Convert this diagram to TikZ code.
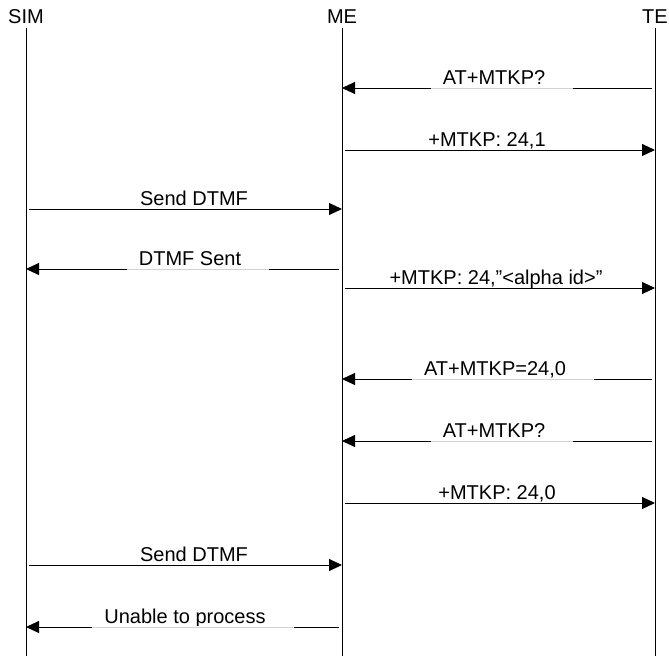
\documentclass[tikz,border=0pt]{standalone}
\usepackage{fontspec}
\setmainfont{Liberation Sans}
\usetikzlibrary{arrows.meta}

\begin{document}
\begin{tikzpicture}[x=1pt, y=-1pt,
    every node/.style={font=\fontsize{20}{24}\selectfont, inner sep=0pt},
    lifeline/.style={line width=0.9pt, shorten <=5pt},
    msg/.style={line width=1pt, -{Triangle[length=13pt,width=12pt]}, shorten <=3pt},
    lbl/.style={anchor=base}]
    \useasboundingbox (0,0) rectangle (669,656);

    % Lifelines
    \node[lbl] (sim) at (26,23) {SIM};
    \node[lbl] (me) at (342,23) {ME};
    \node[lbl] (te) at (655,23) {TE};
    \coordinate (bot) at (0,656);
    \foreach \p in {sim, me, te}
        \draw[lifeline] (\p.south) -- (\p.south |- bot);

    % Labels
    \node[lbl] (m1) at (494,84) {AT+MTKP?};
    \node[lbl] (m2) at (487,146) {+MTKP: 24,1};
    \node[lbl] (m3) at (194,205) {Send DTMF};
    \node[lbl] (m4) at (190,265) {DTMF Sent};
    \node[lbl] (m5) at (496,284) {+MTKP: 24,”<alpha id>”};
    \node[lbl] (m6) at (495,375) {AT+MTKP=24,0};
    \node[lbl] (m7) at (494,437) {AT+MTKP?};
    \node[lbl] (m8) at (497,499) {+MTKP: 24,0};
    \node[lbl] (m9) at (194,561) {Send DTMF};
    \node[lbl] (m10) at (185,623) {Unable to process};

    % Messages
    \draw[msg] (te |- 0,88) -- (me |- 0,88);
    \draw[msg] (me |- 0,150) -- (te |- 0,150);
    \draw[msg] (sim |- 0,209) -- (me |- 0,209);
    \draw[msg] (me |- 0,269) -- (sim |- 0,269);
    \draw[msg] (me |- 0,288) -- (te |- 0,288);
    \draw[msg] (te |- 0,379) -- (me |- 0,379);
    \draw[msg] (te |- 0,441) -- (me |- 0,441);
    \draw[msg] (me |- 0,503) -- (te |- 0,503);
    \draw[msg] (sim |- 0,565) -- (me |- 0,565);
    \draw[msg] (me |- 0,627) -- (sim |- 0,627);

    % Gaps under the labels of the replies
    \foreach \m/\y in {m1/88, m4/269, m6/379, m7/441, m10/627} {
        \draw[white, line width=3pt, shorten <=-12pt, shorten >=-28pt] (\m.west |- 0,\y) -- (\m.east |- 0,\y);
        \draw[gray!35, line width=0.8pt, shorten <=-12pt, shorten >=-28pt] (\m.west |- 0,\y) -- (\m.east |- 0,\y);
    }
\end{tikzpicture}
\end{document}
